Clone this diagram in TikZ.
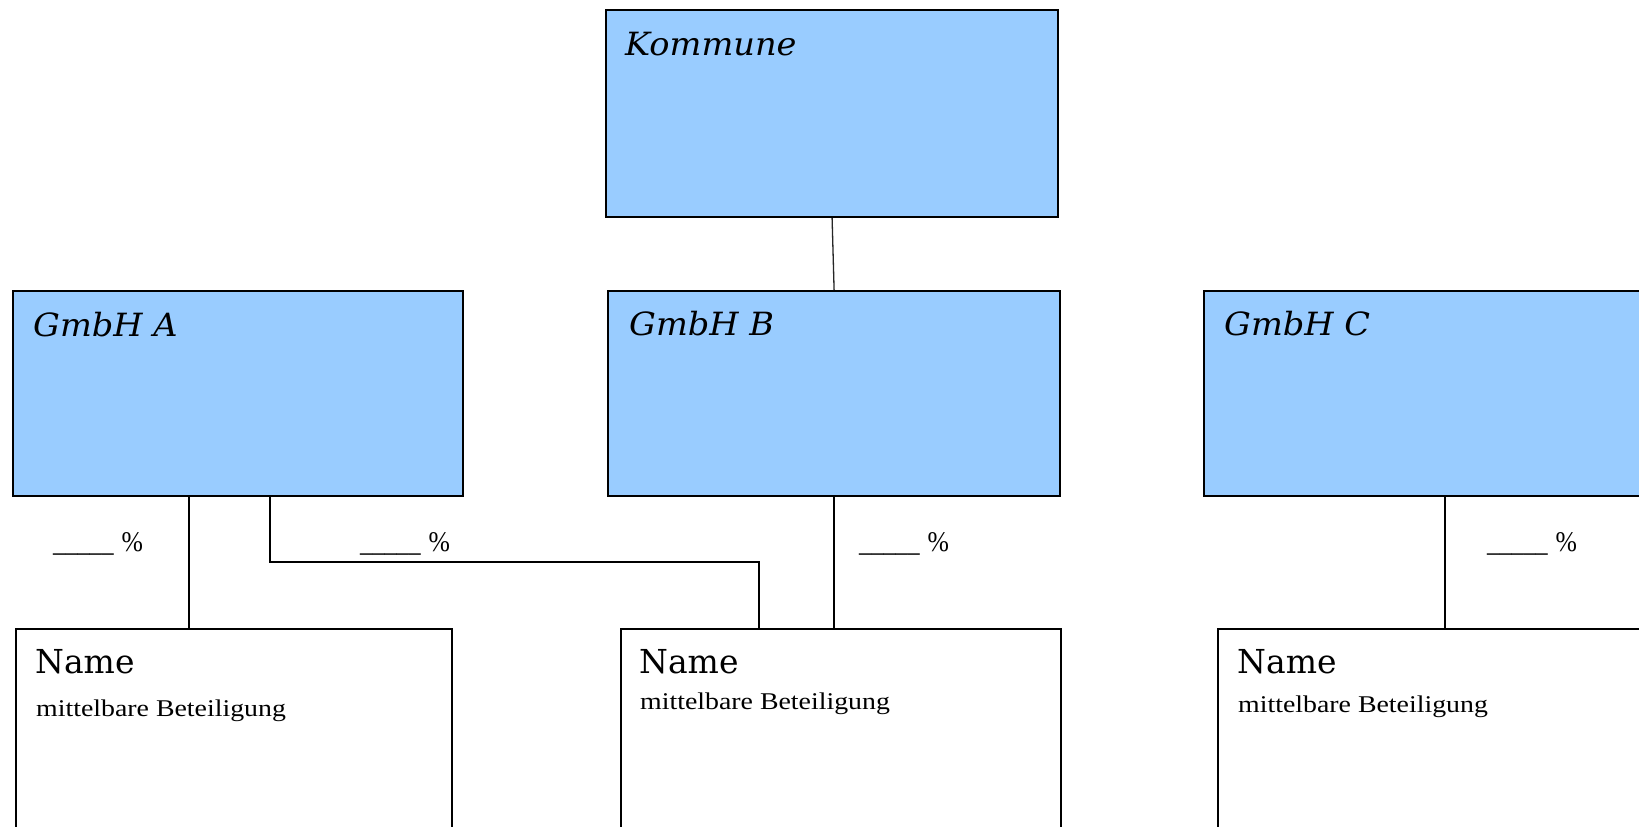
\documentclass[tikz,border=0pt]{standalone}
\usepackage{fontspec}
\setmainfont{DejaVu Serif}
\newfontfamily\titlefont[FakeStretch=1.05]{DejaVu Serif}
\newfontfamily\notefont[FakeStretch=1.16]{Liberation Serif}
\newfontfamily\pctfont[FakeStretch=0.82]{Liberation Serif}
\newfontfamily\pctsign[FakeStretch=0.9]{Liberation Serif}
\definecolor{boxblue}{HTML}{99CCFF}
\tikzset{
  orgbox/.style={draw=black, line width=2.2pt, fill=boxblue, anchor=north west,
    inner sep=0pt, rectangle},
  namebox/.style={draw=black, line width=2.2pt, fill=white, anchor=north west,
    inner sep=0pt, rectangle},
  boxtitle/.style={anchor=base west, inner sep=0pt,
    font=\titlefont\fontsize{32}{32}\selectfont\itshape},
  nametitle/.style={anchor=base west, inner sep=0pt,
    font=\fontsize{33}{33}\selectfont},
  notetext/.style={anchor=base west, inner sep=0pt,
    font=\notefont\fontsize{24}{24}\selectfont},
  pcttext/.style={anchor=base west, inner sep=0pt,
    font=\pctfont\fontsize{29.5}{29.5}\selectfont},
  link/.style={draw=black, line width=2pt},
  thinlink/.style={draw=black!85, line width=1.3pt}
}
\newcommand{\sharefield}{\_\_\_\_\_\hspace{8pt}{\pctsign\fontsize{28.5}{28.5}\selectfont\%}}
\begin{document}
\begin{tikzpicture}[x=1pt,y=-1pt]
  \useasboundingbox (0,0) rectangle (1639,827);
  \clip (0,0) rectangle (1639,827);
  \fill[white] (0,0) rectangle (1639,827);

  % upper row: municipality and its companies
  \node[orgbox, minimum width=452pt, minimum height=207pt] (K) at (605,9) {};
  \node[orgbox, minimum width=450.5pt, minimum height=205pt] (A) at (11.5,290) {};
  \node[orgbox, minimum width=452pt, minimum height=205pt] (B) at (607,290) {};
  \node[orgbox, minimum width=500pt, minimum height=205pt] (C) at (1203,290) {};

  % lower row: indirect holdings
  \node[namebox, minimum width=436pt, minimum height=260pt] (NA) at (14.5,628) {};
  \node[namebox, minimum width=440pt, minimum height=260pt] (NB) at (620,628) {};
  \node[namebox, minimum width=500pt, minimum height=260pt] (NC) at (1217,628) {};

  % titles
  \node[boxtitle] (Kt) at (625,55) {Kommune};
  \node[boxtitle] (At) at (33,336) {GmbH A};
  \node[boxtitle] (Bt) at (629,335) {GmbH B};
  \node[boxtitle] (Ct) at (1224,335) {GmbH C};

  \node[nametitle] (NAt) at (35,673) {Name};
  \node[nametitle] (NBt) at (639,673) {Name};
  \node[nametitle] (NCt) at (1237,673) {Name};

  \node[notetext] (NAs) at (36,716) {mittelbare Beteiligung};
  \node[notetext] (NBs) at (640,709) {mittelbare Beteiligung};
  \node[notetext] (NCs) at (1238,712.5) {mittelbare Beteiligung};

  % share labels
  \node[pcttext] (pA1) at (53,551) {\sharefield};
  \node[pcttext] (pA2) at (360,551) {\sharefield};
  \node[pcttext] (pB) at (859,551) {\sharefield};
  \node[pcttext] (pC) at (1487,551) {\sharefield};

  % connector positions
  \coordinate (xa1) at (189,0);
  \coordinate (xa2) at (270,0);
  \coordinate (bend) at (759,562);
  \coordinate (xc) at (1445,0);

  % connectors
  \draw[thinlink] (K.south) -- (B.north);
  \draw[link] (A.south -| xa1) -- (NA.north -| xa1);
  \draw[link] (A.south -| xa2) |- (bend) -- (bend |- NB.north);
  \draw[link] (B.south) -- (B.south |- NB.north);
  \draw[link] (C.south -| xc) -- (NC.north -| xc);
\end{tikzpicture}
\end{document}
